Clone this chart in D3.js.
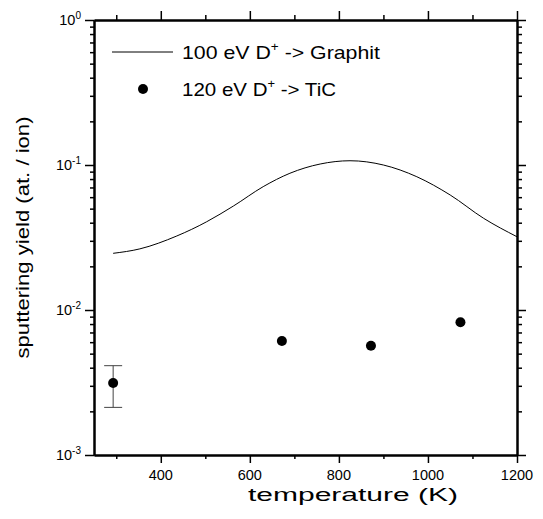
<!DOCTYPE html>
<html><head><meta charset="utf-8">
<script src="https://cdn.jsdelivr.net/npm/d3@7"></script>
<style>
body{margin:0;background:#fff}
svg text{font-family:"Liberation Sans",Arial,Helvetica,sans-serif;fill:#000}
</style>
</head><body>
<svg id="c" width="543" height="519"></svg>
<script>
// ---- data ----
const curveTemp  = [293, 353, 436, 503, 563, 630, 690, 758, 825, 900, 975, 1050, 1125, 1200];
const curveYield = [0.0246, 0.0264, 0.0324, 0.0406, 0.0521, 0.0709, 0.0877, 0.1016, 0.107, 0.100, 0.083, 0.0621, 0.0429, 0.032];
const pointTemp  = [293, 672, 872, 1073];
const pointYield = [0.00314, 0.00611, 0.00567, 0.00823];
const errLow     = [0.00213, null, null, null];
const errHigh    = [0.00413, null, null, null];
const xMajorTicks = [400, 600, 800, 1000, 1200];
const xMinorTicks = [300, 500, 700, 900, 1100];
const yExponents  = [0, -1, -2, -3];
const legendCurve = ["100 eV D", "+", " -> Graphit"];
const legendPoint = ["120 eV D", "+", " -> TiC"];
const xTitle = "temperature (K)";
const yTitle = "sputtering yield (at. / ion)";

// ---- layout ----
const svg = d3.select("#c");
const L = 94, R = 517, T = 20, B = 455;
const x = d3.scaleLinear().domain([250, 1200]).range([L, R]);
const y = d3.scaleLog().domain([1e-3, 1]).range([B, T]);

const yMinor = [];
yExponents.slice(1).forEach(e => { for (let m = 2; m <= 9; m++) yMinor.push(m * Math.pow(10, e)); });
const yMajor = yExponents.map(e => Math.pow(10, e));

function styleAxis(g, w) {
  g.selectAll(".domain").attr("stroke", "#000").attr("stroke-width", 2);
  g.selectAll(".tick line").attr("stroke", "#000").attr("stroke-width", w);
  g.selectAll(".tick text").remove();
}
// bottom
svg.append("g").attr("transform", `translate(0,${B})`)
  .call(d3.axisBottom(x).tickValues(xMinorTicks).tickSize(4).tickSizeOuter(0)).call(g => styleAxis(g, 1.5));
svg.append("g").attr("transform", `translate(0,${B})`)
  .call(d3.axisBottom(x).tickValues(xMajorTicks).tickSize(8).tickSizeOuter(0)).call(g => styleAxis(g, 1.5));
// top
svg.append("g").attr("transform", `translate(0,${T})`)
  .call(d3.axisTop(x).tickValues(xMinorTicks).tickSize(5).tickSizeOuter(0)).call(g => styleAxis(g, 1.5));
svg.append("g").attr("transform", `translate(0,${T})`)
  .call(d3.axisTop(x).tickValues(xMajorTicks).tickSize(9).tickSizeOuter(0)).call(g => styleAxis(g, 1.5));
// left
svg.append("g").attr("transform", `translate(${L},0)`)
  .call(d3.axisLeft(y).tickValues(yMinor).tickSize(4).tickSizeOuter(0)).call(g => styleAxis(g, 1.5));
svg.append("g").attr("transform", `translate(${L},0)`)
  .call(d3.axisLeft(y).tickValues(yMajor).tickSize(9).tickSizeOuter(0)).call(g => styleAxis(g, 1.5));
// right
svg.append("g").attr("transform", `translate(${R},0)`)
  .call(d3.axisRight(y).tickValues(yMinor).tickSize(5).tickSizeOuter(0)).call(g => styleAxis(g, 1.5));
svg.append("g").attr("transform", `translate(${R},0)`)
  .call(d3.axisRight(y).tickValues(yMajor).tickSize(9).tickSizeOuter(0)).call(g => styleAxis(g, 1.5));

// x tick labels
svg.append("g").selectAll("text").data(xMajorTicks).join("text")
  .attr("x", d => x(d)).attr("y", 480).attr("text-anchor", "middle")
  .attr("font-size", 14.5).text(d => d);

// y tick labels 10^n
yExponents.forEach(e => {
  const t = svg.append("text").attr("x", 81).attr("y", y(Math.pow(10, e)) + 5)
    .attr("text-anchor", "end").attr("font-size", 14.5);
  t.append("tspan").text("10");
  t.append("tspan").attr("dy", -6).attr("font-size", 10).text(e === 0 ? "0" : "-" + Math.abs(e));
});

// axis titles
svg.append("text").attr("x", 353).attr("y", 501).attr("text-anchor", "middle")
  .attr("font-size", 17.5).attr("textLength", 210).attr("lengthAdjust", "spacingAndGlyphs").text(xTitle);
svg.append("text").attr("transform", `translate(29,${(T + B) / 2}) rotate(-90)`)
  .attr("text-anchor", "middle").attr("font-size", 17.5)
  .attr("textLength", 242).attr("lengthAdjust", "spacingAndGlyphs").text(yTitle);

// curve
const curveData = curveTemp.map((t, i) => [t, curveYield[i]]);
svg.append("path").datum(curveData)
  .attr("fill", "none").attr("stroke", "#000").attr("stroke-width", 1)
  .attr("d", d3.line().x(d => x(d[0])).y(d => y(d[1])).curve(d3.curveMonotoneX));

// error bars
const pts = pointTemp.map((t, i) => ({t, v: pointYield[i], lo: errLow[i], hi: errHigh[i]}));
const eb = svg.append("g").attr("stroke", "#444").attr("stroke-width", 1);
pts.filter(d => d.lo != null).forEach(d => {
  eb.append("line").attr("x1", x(d.t)).attr("x2", x(d.t)).attr("y1", y(d.lo)).attr("y2", y(d.hi));
  eb.append("line").attr("x1", x(d.t) - 9).attr("x2", x(d.t) + 9).attr("y1", y(d.lo)).attr("y2", y(d.lo));
  eb.append("line").attr("x1", x(d.t) - 9).attr("x2", x(d.t) + 9).attr("y1", y(d.hi)).attr("y2", y(d.hi));
});
// points
svg.append("g").selectAll("circle").data(pts).join("circle")
  .attr("cx", d => x(d.t)).attr("cy", d => y(d.v)).attr("r", 5).attr("fill", "#000");

// legend
svg.append("line").attr("x1", 112).attr("x2", 173).attr("y1", 52).attr("y2", 52)
  .attr("stroke", "#000").attr("stroke-width", 1);
svg.append("circle").attr("cx", 143).attr("cy", 89).attr("r", 5).attr("fill", "#000");
function legendText(parts, yy, len) {
  const t = svg.append("text").attr("x", 182).attr("y", yy).attr("font-size", 19)
    .attr("textLength", len).attr("lengthAdjust", "spacingAndGlyphs");
  t.append("tspan").text(parts[0]);
  t.append("tspan").attr("dy", -8).attr("font-size", 12).text(parts[1]);
  t.append("tspan").attr("dy", 8).text(parts[2]);
}
legendText(legendCurve, 59, 198);
legendText(legendPoint, 96, 154);
</script>
</body></html>
